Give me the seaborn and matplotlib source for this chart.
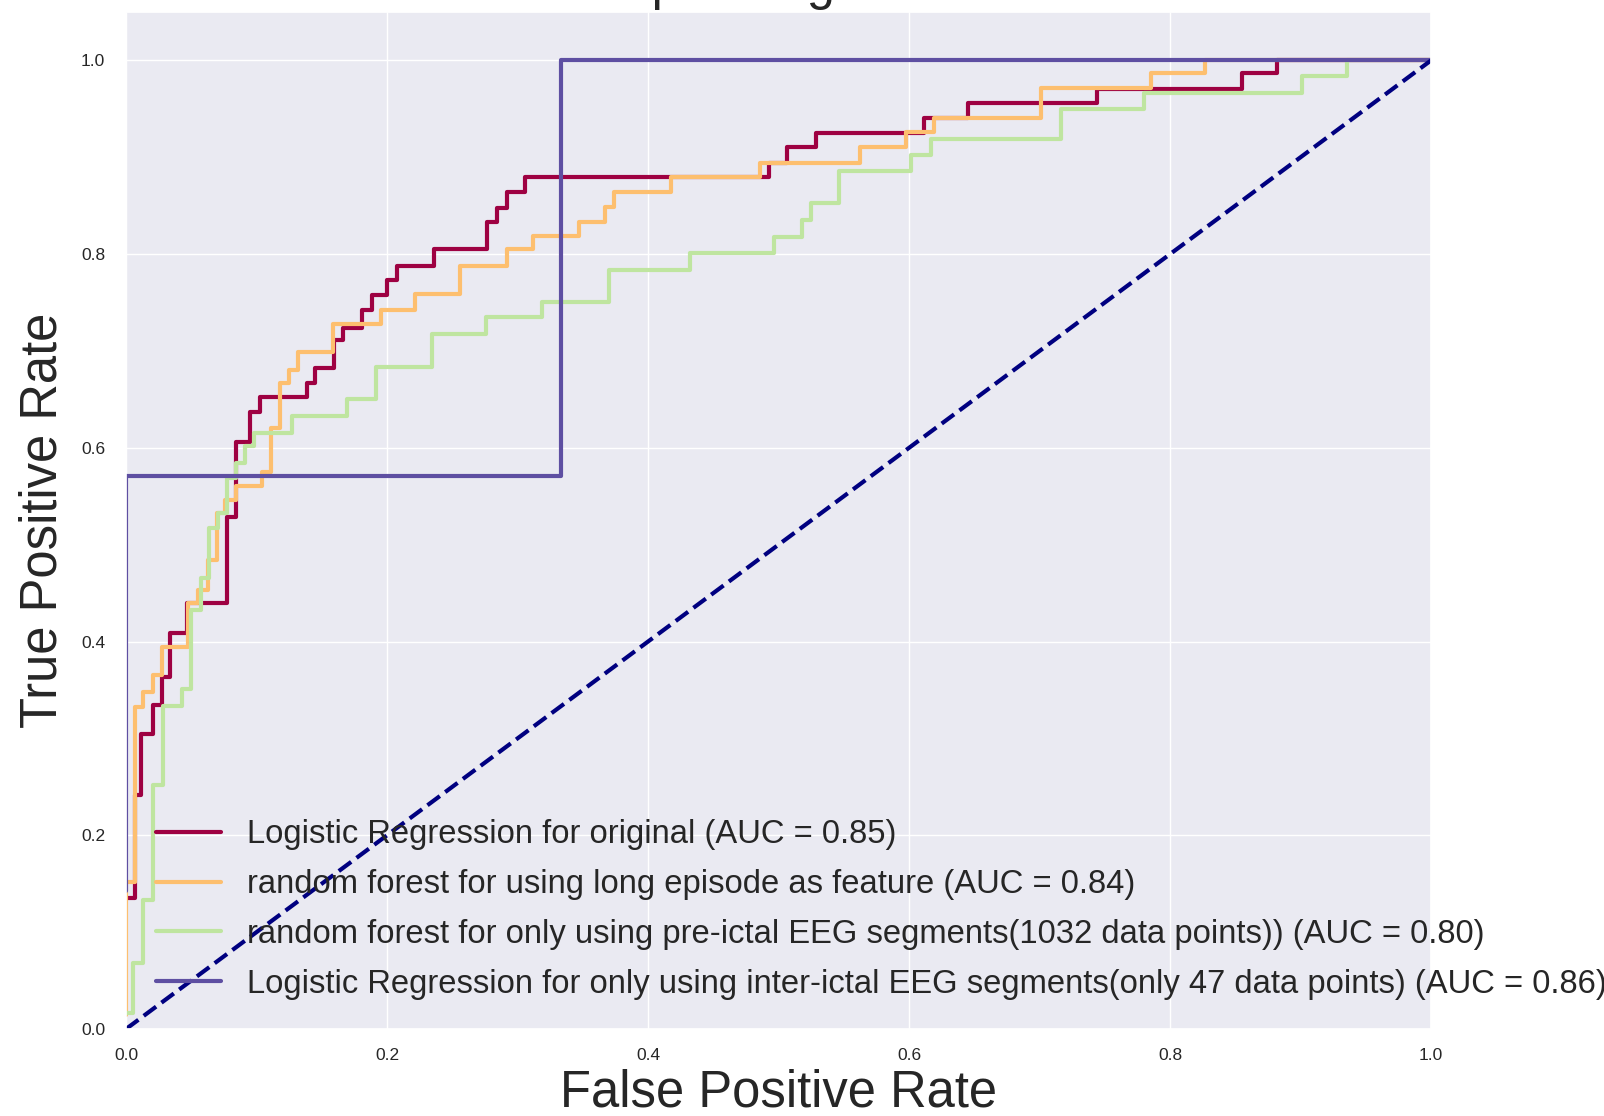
import numpy as np
import matplotlib
matplotlib.use("Agg")
import matplotlib.pyplot as plt
import seaborn as sns

# ROC curve vertices (steps-post: the curve jumps up to tpr[i] at fpr[i])
fpr_lr_orig = [0, 0.0069, 0.0113, 0.0209, 0.0273, 0.0337, 0.0465, 0.0772, 0.0843, 0.095,
               0.1027, 0.1385, 0.1448, 0.1594, 0.1665, 0.1806, 0.1882, 0.1998, 0.2074, 0.236,
               0.2769, 0.284, 0.2917, 0.3057, 0.493, 0.5068, 0.5287, 0.6115, 0.645, 0.744,
               0.855, 0.882, 1.0]
tpr_lr_orig = [0.135, 0.2416, 0.305, 0.3345, 0.3638, 0.4086, 0.4395, 0.529, 0.6065, 0.6374,
               0.6529, 0.6667, 0.6822, 0.7114, 0.7235, 0.7424, 0.7579, 0.7734, 0.7878, 0.8051,
               0.8336, 0.848, 0.8646, 0.8794, 0.8939, 0.9104, 0.9255, 0.941, 0.9557, 0.9701,
               0.987, 1.0, 1.0]

fpr_rf_long = [0, 0, 0.0069, 0.0133, 0.0204, 0.0273, 0.0478, 0.0554, 0.0631, 0.0695,
               0.0759, 0.084, 0.1045, 0.1109, 0.118, 0.1248, 0.132, 0.1589, 0.1951, 0.2215,
               0.256, 0.2917, 0.3116, 0.3474, 0.367, 0.374, 0.4174, 0.4858, 0.5626, 0.5975,
               0.6188, 0.7009, 0.7852, 0.8267, 1.0]
tpr_rf_long = [0.0145, 0.152, 0.3328, 0.348, 0.3655, 0.3947, 0.4395, 0.4533, 0.4843, 0.5325,
               0.5462, 0.5607, 0.5755, 0.6202, 0.6667, 0.6804, 0.6987, 0.728, 0.7424, 0.7589,
               0.7878, 0.8051, 0.8188, 0.8336, 0.8484, 0.8646, 0.8794, 0.8939, 0.9104, 0.9265,
               0.941, 0.9717, 0.987, 1.0, 1.0]

fpr_rf_pre = [0, 0.0056, 0.0133, 0.0209, 0.0281, 0.0427, 0.0496, 0.0572, 0.0638, 0.0707,
              0.0776, 0.0843, 0.0912, 0.0981, 0.127, 0.1696, 0.1913, 0.2342, 0.2759, 0.319,
              0.37, 0.4325, 0.4967, 0.5183, 0.5249, 0.5462, 0.6019, 0.6165, 0.7165, 0.78,
              0.901, 0.9356, 1.0]
tpr_rf_pre = [0.0162, 0.0678, 0.1332, 0.2519, 0.3335, 0.3507, 0.4326, 0.4653, 0.517, 0.5325,
              0.5686, 0.5841, 0.602, 0.6157, 0.633, 0.6502, 0.6839, 0.7176, 0.7355, 0.751,
              0.7835, 0.8016, 0.8178, 0.8354, 0.8525, 0.8855, 0.9019, 0.919, 0.9496, 0.9667,
              0.9837, 1.0, 1.0]

fpr_lr_inter = [0, 0, 1 / 3, 1.0]
tpr_lr_inter = [1 / 7, 4 / 7, 1.0, 1.0]

labels = [
    "Logistic Regression for original (AUC = 0.85)",
    "random forest for using long episode as feature (AUC = 0.84)",
    "random forest for only using pre-ictal EEG segments(1032 data points)) (AUC = 0.80)",
    "Logistic Regression for only using inter-ictal EEG segments(only 47 data points) (AUC = 0.86)",
]
curves = [
    (fpr_lr_orig, tpr_lr_orig),
    (fpr_rf_long, tpr_rf_long),
    (fpr_rf_pre, tpr_rf_pre),
    (fpr_lr_inter, tpr_lr_inter),
]

sns.set_theme(style="darkgrid")
plt.rcParams["font.family"] = ["Liberation Sans", "DejaVu Sans"]

colors = plt.cm.Spectral(np.linspace(0, 1, len(curves)))

fig = plt.figure(figsize=(16.04, 11.16), dpi=100)
ax = fig.add_subplot(111)
fig.subplots_adjust(left=126 / 1604, right=1431 / 1604,
                    bottom=(1116 - 1029) / 1116, top=(1116 - 12) / 1116)

handles = []
for (fpr, tpr), lab, col in zip(curves, labels, colors):
    sns.lineplot(x=fpr, y=tpr, ax=ax, sort=False, estimator=None,
                 drawstyle="steps-post", color=col, linewidth=3, label=lab)
    handles.append(ax.lines[-1])

# chance line
sns.lineplot(x=[0, 1], y=[0, 1], ax=ax, sort=False, estimator=None,
             color="navy", linestyle="--", linewidth=3)

ax.set_xlim(0.0, 1.0)
ax.set_ylim(0.0, 1.05)
ax.set_xticks([0.0, 0.2, 0.4, 0.6, 0.8, 1.0])
ax.set_yticks([0.0, 0.2, 0.4, 0.6, 0.8, 1.0])
ax.tick_params(axis="both", labelsize=12.5, length=0)
ax.tick_params(axis="x", pad=14)
ax.tick_params(axis="y", pad=15)

ax.set_xlabel("False Positive Rate", fontsize=36.5, labelpad=3.5)
ax.set_ylabel("True Positive Rate", fontsize=36.5, labelpad=10)
ax.set_title("Receiver operating characteristic", fontsize=36.5, pad=9.4)

ax.legend(handles=handles, labels=labels, loc="lower left", fontsize=23.6,
          labelspacing=0.57, frameon=False)

fig.savefig("out.png", dpi=100)
